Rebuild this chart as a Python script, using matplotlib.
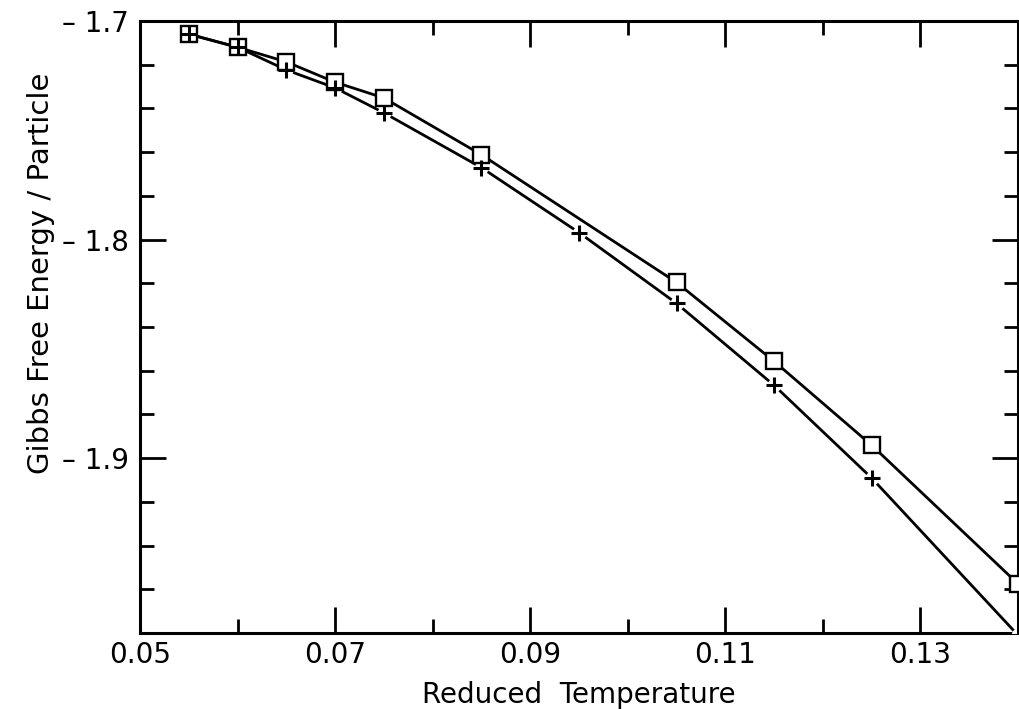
import numpy as np
import matplotlib
matplotlib.use("Agg")
import matplotlib.pyplot as plt
from matplotlib.ticker import FixedLocator, FixedFormatter

# data
temp_sq = [0.055, 0.060, 0.065, 0.070, 0.075, 0.085, 0.105, 0.115, 0.125, 0.140]
gibbs_sq = [-1.706, -1.712, -1.7187, -1.728, -1.7352, -1.7612, -1.8196, -1.8557, -1.8941, -1.9575]

temp_plus = [0.055, 0.060, 0.065, 0.070, 0.075, 0.085, 0.095, 0.105, 0.115, 0.125, 0.140]
gibbs_plus = [-1.706, -1.712, -1.7224, -1.7306, -1.742, -1.7671, -1.7968, -1.8292, -1.8667, -1.9091, -1.981]

x_major = [0.05, 0.07, 0.09, 0.11, 0.13]
x_minor = [0.06, 0.08, 0.10, 0.12, 0.14]
x_labels = ['0.05', '0.07', '0.09', '0.11', '0.13']
y_major = [-1.7, -1.8, -1.9]
y_minor = [-1.72, -1.74, -1.76, -1.78, -1.82, -1.84, -1.86, -1.88, -1.92, -1.94, -1.96]
y_labels = ['\u2013 1.7', '\u2013 1.8', '\u2013 1.9']

plt.rcParams['font.family'] = ['DejaVu Sans']

fig = plt.figure(figsize=(10.19, 7.09), dpi=100)
ax = fig.add_axes([140 / 1019, 76 / 709, 878 / 1019, 612 / 709])

lw = 2.0
ax.plot(temp_sq, gibbs_sq, color='black', lw=lw, zorder=2)
ax.plot(temp_plus, gibbs_plus, color='black', lw=lw, zorder=2)

# white halos so the line breaks around the + marks
ax.plot(temp_plus, gibbs_plus, ls='none', marker='o', ms=10, mfc='white', mec='none', zorder=3)
ax.plot(temp_sq, gibbs_sq, ls='none', marker='s', ms=11.5, mfc='white', mec='black', mew=1.7, zorder=4)
ax.plot(temp_plus, gibbs_plus, ls='none', marker='+', ms=11, mec='black', mew=2.2, zorder=5)

ax.set_xlim(0.05, 0.14)
ax.set_ylim(-1.98, -1.7)

ax.xaxis.set_major_locator(FixedLocator(x_major))
ax.xaxis.set_major_formatter(FixedFormatter(x_labels))
ax.xaxis.set_minor_locator(FixedLocator(x_minor))
ax.yaxis.set_major_locator(FixedLocator(y_major))
ax.yaxis.set_major_formatter(FixedFormatter(y_labels))
ax.yaxis.set_minor_locator(FixedLocator(y_minor))

ax.tick_params(which='both', direction='in', top=True, right=True, width=2, labelsize=20)
ax.tick_params(which='major', length=19)
ax.tick_params(which='minor', length=10)
ax.tick_params(axis='x', which='major', pad=6)
ax.tick_params(axis='y', which='major', pad=8)

for sp in ax.spines.values():
    sp.set_linewidth(2.2)

ax.set_xlabel('Reduced  Temperature', fontsize=20)
ax.set_ylabel('Gibbs Free Energy / Particle', fontsize=21)
ax.xaxis.set_label_coords(0.5, -0.078)
ax.yaxis.set_label_coords(-0.097, 0.587)

fig.savefig('out.png', dpi=100)
